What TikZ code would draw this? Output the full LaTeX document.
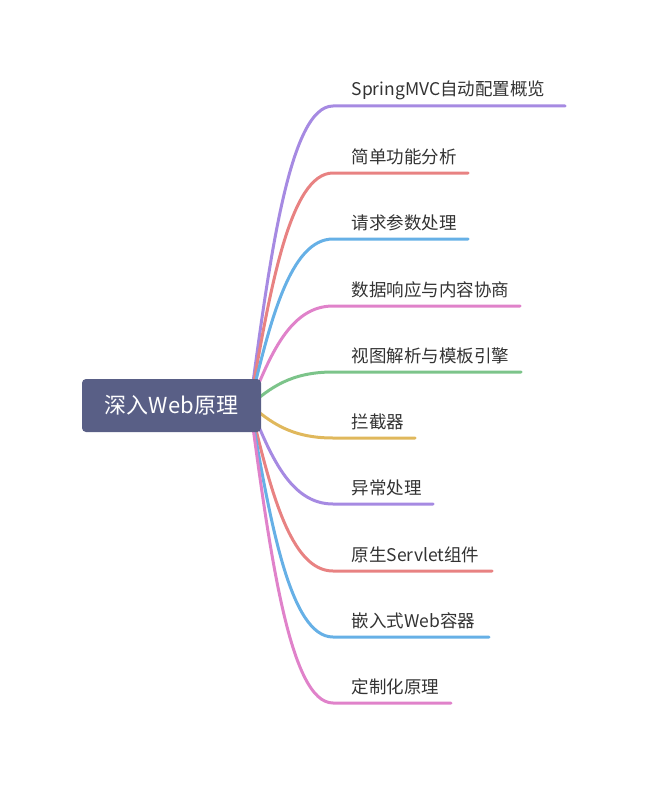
\documentclass[tikz,border=0pt]{standalone}
\usepackage{fontspec}
\setmainfont{Noto Sans CJK SC}
\definecolor{cpurple}{HTML}{A68AE2}
\definecolor{cred}{HTML}{E88282}
\definecolor{cblue}{HTML}{66B0E6}
\definecolor{cpink}{HTML}{E082CA}
\definecolor{cgreen}{HTML}{7CC48A}
\definecolor{cyellow}{HTML}{E0B85C}
\definecolor{rootfill}{HTML}{595F86}
\definecolor{txt}{HTML}{333333}
\begin{document}
\begin{tikzpicture}[x=1pt,y=-1pt,
  branch/.style={line width=3pt,line cap=round},
  leaftext/.style={font=\fontsize{17.5pt}{20pt}\selectfont,text=txt,inner sep=0pt,anchor=base west},
  rootbox/.style={fill=rootfill,rounded corners=4pt,minimum width=179pt,minimum height=53pt,inner sep=0pt,text=white,font=\fontsize{22pt}{25pt}\selectfont}]
\useasboundingbox (0,0) rectangle (661,797);
\coordinate (hub) at (250,405);
\foreach \i/\y/\e/\c/\t in {
  1/106/565/cpurple/SpringMVC自动配置概览,
  2/173/468/cred/简单功能分析,
  3/239/468/cblue/请求参数处理,
  4/306/520/cpink/数据响应与内容协商,
  5/372/521/cgreen/视图解析与模板引擎,
  6/438/415/cyellow/拦截器,
  7/504/433/cpurple/异常处理,
  8/571/492/cred/原生Servlet组件,
  9/637/489/cblue/嵌入式Web容器,
  10/703/451/cpink/定制化原理}{
  \coordinate (b\i) at (333,\y);
  \coordinate (e\i) at (\e,\y);
  \draw[branch,\c] (hub) .. controls (270,{(405+\y)/2}) and (290,\y) .. (b\i) -- (e\i);
  \node[leaftext] (t\i) at (351.5,\y-10) {\t};
}
\node[rootbox] (root) at (171.5,405.5) {深入Web原理};
\end{tikzpicture}
\end{document}
